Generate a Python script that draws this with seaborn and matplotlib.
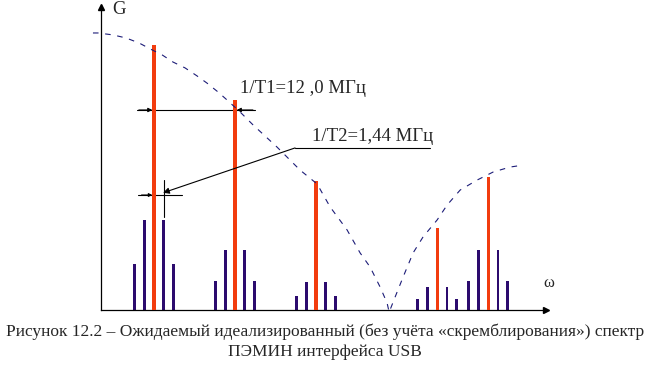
"""
Expected idealised USB emission spectrum (fig. 12.2): harmonics of 1/T1
with 1/T2 sidebands under a dashed envelope.
"""
import matplotlib
matplotlib.use("Agg")
import matplotlib.pyplot as plt
import seaborn as sns

# frequencies in MHz, levels relative to envelope maximum
red_f = [7.85, 19.85, 31.85, 49.8, 57.35]
red_g = [0.957, 0.758, 0.466, 0.296, 0.48]

blue_f = [4.97, 6.41, 9.29, 10.73,
          16.97, 18.41, 21.29, 22.73,
          28.97, 30.41, 33.29, 34.73,
          46.92, 48.36, 51.24, 52.68,
          54.47, 55.91, 58.79, 60.23]
blue_g = [0.166, 0.325, 0.325, 0.166,
          0.105, 0.217, 0.217, 0.105,
          0.051, 0.101, 0.101, 0.051,
          0.040, 0.083, 0.083, 0.040,
          0.105, 0.217, 0.217, 0.105]

env_f = [-1.19, -0.44, 1.78, 3.70, 5.63, 7.56, 9.04, 10.67, 12.44, 14.22,
         15.70, 17.33, 18.67, 20.59, 22.52, 26.07, 29.48, 32.0, 33.93, 36.44,
         38.37, 39.85, 41.33, 42.37, 42.67, 43.56, 44.74, 46.22, 47.70, 49.78,
         51.26, 53.19, 55.70, 58.07, 60.59, 62.52]
env_g = [1.0, 1.0, 0.993, 0.982, 0.964, 0.939, 0.921, 0.895, 0.874, 0.845,
         0.819, 0.787, 0.758, 0.715, 0.668, 0.588, 0.505, 0.455, 0.372, 0.289,
         0.206, 0.155, 0.083, 0.025, -0.008, 0.047, 0.119, 0.206, 0.264, 0.325,
         0.379, 0.433, 0.469, 0.498, 0.516, 0.523]

label_t1 = "1/T1=12 ,0 МГц"
label_t2 = "1/T2=1,44 МГц"
caption = ("Рисунок 12.2 – Ожидаемый идеализированный (без учёта «скремблирования») спектр\n"
           "ПЭМИН интерфейса USB")

RED = "#f23c0e"
BLUE = "#2c0b6e"
ENV = "#1c1c78"

sns.set_style("white")
plt.rcParams["font.family"] = ["Liberation Serif", "DejaVu Serif"]

fig = plt.figure(figsize=(6.5, 3.66), dpi=100)
ax = fig.add_axes([85 / 650, (366 - 318) / 366, (546 - 85) / 650, (318 - 5) / 366])
ax.set_xlim(-2.37, 65.9)
ax.set_ylim(-0.029, 1.101)

ax.bar(blue_f, blue_g, width=0.4, color=BLUE, linewidth=0, zorder=2)
ax.bar(red_f, red_g, width=0.5, color=RED, linewidth=0, zorder=3)
sns.lineplot(x=env_f, y=env_g, sort=False, estimator=None, ax=ax,
             color=ENV, linewidth=0.8, linestyle=(0, (5, 6)), zorder=4)

# axes with arrows through the origin
for side in ("top", "right"):
    ax.spines[side].set_visible(False)
ax.spines["left"].set_position(("data", 0))
ax.spines["bottom"].set_position(("data", 0))
ax.spines["left"].set_bounds(0, 1.101)
ax.spines["bottom"].set_bounds(0, 65.9)
for side in ("left", "bottom"):
    ax.spines[side].set_color("black")
    ax.spines[side].set_linewidth(0.9)
ax.plot(65.9, 0, ">", color="black", ms=5, clip_on=False)
ax.plot(0, 1.095, "^", color="black", ms=5, clip_on=False)
ax.set_xticks([])
ax.set_yticks([])
ax.text(1.7, 1.085, "G", fontsize=13.5, va="center")
ax.text(66.3, 0.097, "ω", fontsize=12, ha="center", va="center")

# dimension 1/T1 between first two harmonics
y1 = 0.722
ax.plot([5.33, 22.81], [y1, y1], color="black", lw=0.8)
ax.annotate("", xy=(red_f[0] - 0.25, y1), xytext=(5.6, y1),
            arrowprops=dict(arrowstyle="-|>", color="black", lw=0.8,
                            mutation_scale=6, shrinkA=0, shrinkB=0))
ax.annotate("", xy=(red_f[1] + 0.25, y1), xytext=(22.5, y1),
            arrowprops=dict(arrowstyle="-|>", color="black", lw=0.8,
                            mutation_scale=6, shrinkA=0, shrinkB=0))
ax.text(20.6, 0.800, label_t1, fontsize=13.5, va="center")

# dimension 1/T2 between harmonic and first sideband
y2 = 0.415
ax.plot([5.48, 12.0], [y2, y2], color="black", lw=0.8)
ax.plot([blue_f[2], blue_f[2]], [0.336, 0.469], color="black", lw=0.8)
ax.annotate("", xy=(red_f[0] - 0.25, y2), xytext=(6.0, y2),
            arrowprops=dict(arrowstyle="-|>", color="black", lw=0.8,
                            mutation_scale=5, shrinkA=0, shrinkB=0))
ax.plot([28.74, 48.74], [0.585, 0.585], color="black", lw=0.8)
ax.annotate("", xy=(blue_f[2] - 0.1, y2 + 0.008), xytext=(28.74, 0.585),
            arrowprops=dict(arrowstyle="-|>", color="black", lw=0.8,
                            mutation_scale=9, shrinkA=0, shrinkB=0))
ax.text(31.26, 0.627, label_t2, fontsize=13.5, va="center")

fig.text(0.5, 1 - 342 / 366, caption, fontsize=12.5, ha="center", va="center",
         linespacing=1.3)

fig.savefig("out.png", dpi=100)
